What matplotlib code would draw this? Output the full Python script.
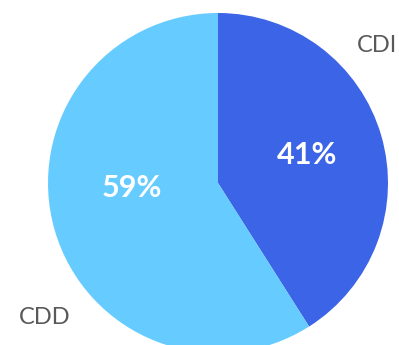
import matplotlib
matplotlib.use('Agg')
import matplotlib.pyplot as plt

categories = ['CDI', 'CDD']
shares = [41, 59]
colors = ['#3B64E6', '#66CCFF']

# where the labels sit in the reference (axes pixel coords, y up)
pct_pos = [(307, 190), (132, 157)]
name_pos = [(377, 300), (45, 27)]

fig = plt.figure(figsize=(3.99, 3.45), dpi=100)
ax = fig.add_axes([0, 0, 1, 1])

wedges, names, pcts = ax.pie(shares, labels=categories, colors=colors,
                             startangle=90, counterclock=False,
                             center=(218, 162), radius=170,
                             autopct='%1.0f%%', frame=True,
                             wedgeprops=dict(linewidth=0))
ax.set_xlim(0, 399)
ax.set_ylim(0, 345)
ax.set_aspect('equal')
ax.axis('off')

for t, p in zip(pcts, pct_pos):
    t.set_position(p)
    t.set_ha('center'); t.set_va('center')
    t.set_color('white'); t.set_fontsize(22); t.set_fontweight('bold')
    t.set_family('Lato')
for t, p in zip(names, name_pos):
    t.set_position(p)
    t.set_ha('center'); t.set_va('center')
    t.set_color('#595959'); t.set_fontsize(17)
    t.set_family('Lato')

fig.savefig('out.png', dpi=100)
